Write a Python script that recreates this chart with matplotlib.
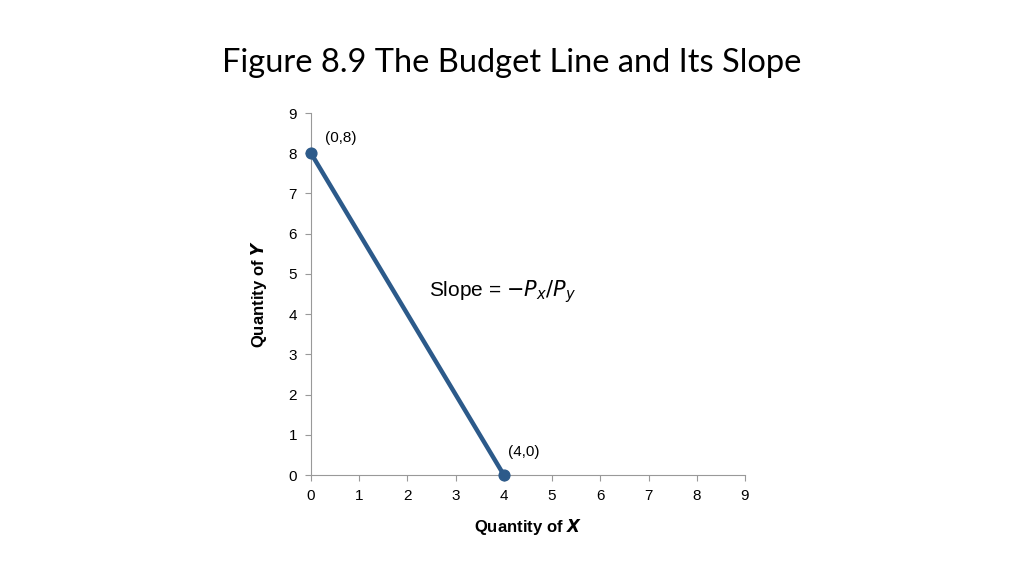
import matplotlib.pyplot as plt

plt.rcParams['font.family'] = ['Liberation Sans', 'DejaVu Sans']

# Budget line endpoints
qty_x = [0, 4]
qty_y = [8, 0]
point_labels = ['(0,8)', '(4,0)']
ticks = list(range(10))

fig = plt.figure(figsize=(10.24, 5.76), dpi=100)
fig.text(0.5, 0.890, 'Figure 8.9 The Budget Line and Its Slope', ha='center', va='center',
         fontsize=23.5, family=['Lato', 'DejaVu Sans'])

ax = fig.add_axes([0.3037, 0.1753, 0.4238, 0.6285])
ax.plot(qty_x, qty_y, color='#2C5A8A', lw=3.2, solid_capstyle='round', zorder=3)
ax.scatter(qty_x, qty_y, color='#2C5A8A', s=60, zorder=4, clip_on=False)

ax.annotate(point_labels[0], (qty_x[0], qty_y[0]), xytext=(10, 8), textcoords='offset points', fontsize=11)
ax.annotate(point_labels[1], (qty_x[1], qty_y[1]), xytext=(3, 14), textcoords='offset points', fontsize=11)
ax.text(2.45, 4.45, r'Slope = $-P_x/P_y$', fontsize=15)

ax.set_xlim(0, 9)
ax.set_ylim(0, 9)
ax.set_xticks(ticks)
ax.set_yticks(ticks)
ax.tick_params(labelsize=11, length=4, color='#999999', pad=6)
for s in ['top', 'right']:
    ax.spines[s].set_visible(False)
for s in ['left', 'bottom']:
    ax.spines[s].set_color('#999999')

ax.set_xlabel(r'Quantity of $\boldsymbol{X}$', fontsize=12, fontweight='bold', labelpad=10)
ax.set_ylabel(r'Quantity of $\boldsymbol{Y}$', fontsize=12, fontweight='bold', labelpad=14)

fig.savefig('out.png', dpi=100)
